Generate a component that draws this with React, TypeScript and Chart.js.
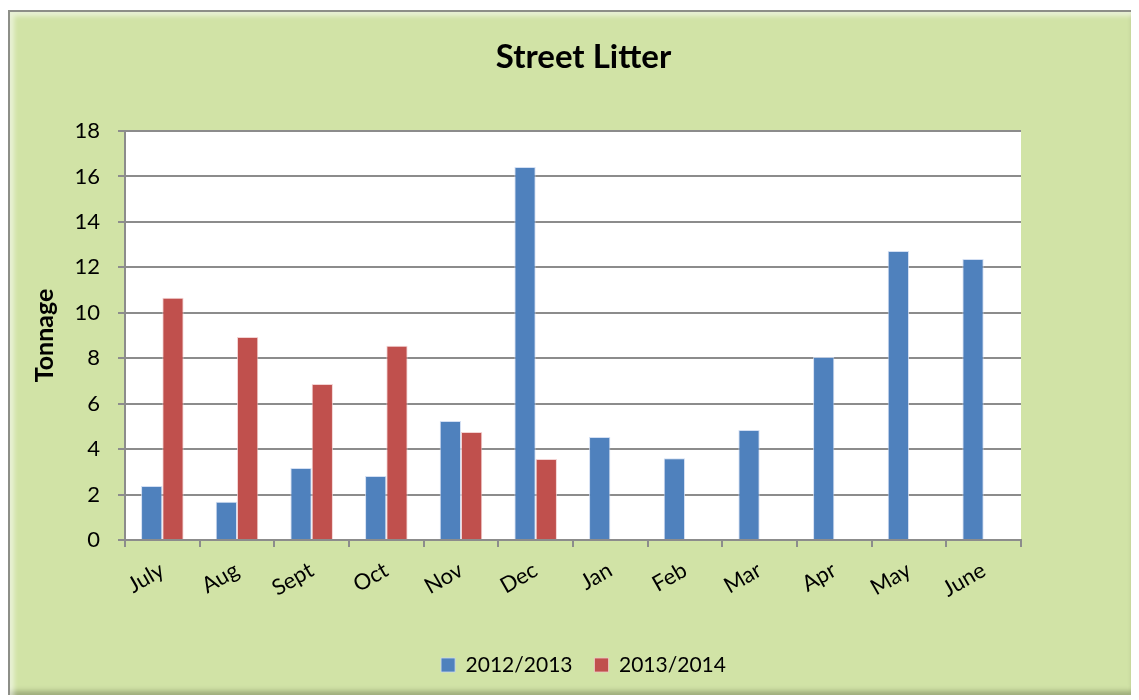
import React, { useEffect, useRef } from "react";
import { Chart, registerables } from "chart.js";

Chart.register(...registerables);

const categories = ["July", "Aug", "Sept", "Oct", "Nov", "Dec", "Jan", "Feb", "Mar", "Apr", "May", "June"];
const series2012 = [2.38, 1.68, 3.17, 2.82, 5.24, 16.42, 4.53, 3.6, 4.84, 8.05, 12.72, 12.37];
const series2013 = [10.66, 8.93, 6.87, 8.55, 4.75, 3.57, null, null, null, null, null, null];
const yTicks = [0, 2, 4, 6, 8, 10, 12, 14, 16, 18];

const FONT = "Lato, 'Open Sans', sans-serif";

const plotBg = {
  id: "plotBg",
  beforeDraw(chart: any) {
    const { ctx, chartArea } = chart;
    ctx.save();
    ctx.fillStyle = "#ffffff";
    ctx.fillRect(chartArea.left, chartArea.top, chartArea.right - chartArea.left, chartArea.bottom - chartArea.top);
    ctx.restore();
  },
};

export default function App() {
  const ref = useRef<HTMLCanvasElement | null>(null);

  useEffect(() => {
    if (!ref.current) return;
    const chart = new Chart(ref.current, {
      type: "bar",
      data: {
        labels: categories,
        datasets: [
          {
            label: "2012/2013",
            data: series2012,
            backgroundColor: "#4f81bd",
            borderColor: "rgba(200,215,240,0.8)",
            borderWidth: 1,
            barPercentage: 1,
            categoryPercentage: 0.57,
          },
          {
            label: "2013/2014",
            data: series2013 as any,
            backgroundColor: "#c0504d",
            borderColor: "rgba(240,200,200,0.8)",
            borderWidth: 1,
            barPercentage: 1,
            categoryPercentage: 0.57,
          },
        ],
      },
      options: {
        responsive: false,
        animation: false,
        layout: { padding: { left: 20, right: 0, top: 0, bottom: 9.5 } },
        plugins: {
          title: {
            display: true,
            text: "Street Litter",
            color: "#000",
            font: { family: FONT, size: 33, weight: "bold" },
            padding: { top: 26, bottom: 53.4 },
          },
          legend: {
            position: "bottom",
            labels: {
              color: "#000",
              font: { family: FONT, size: 21 },
              boxWidth: 14,
              boxHeight: 14,
              padding: 22,
            },
          },
          tooltip: { enabled: false },
        },
        scales: {
          x: {
            grid: {
              display: true,
              drawOnChartArea: false,
              drawTicks: true,
              tickLength: 7,
              color: "#8c8c8c",
              lineWidth: 2,
              offset: true,
            },
            border: { display: true, color: "#8c8c8c", width: 2 },
            ticks: {
              color: "#000",
              font: { family: FONT, size: 22 },
              minRotation: 30,
              maxRotation: 30,
              padding: 10,
            },
            afterFit(scale: any) {
              scale.height = 92.5;
            },
          },
          y: {
            min: 0,
            max: 18,
            afterBuildTicks(scale: any) {
              scale.ticks = yTicks.map((v) => ({ value: v }));
            },
            grid: {
              color: "#8c8c8c",
              lineWidth: 2,
              tickLength: 7,
            },
            border: { display: true, color: "#8c8c8c", width: 2 },
            ticks: {
              color: "#000",
              font: { family: FONT, size: 22 },
              padding: 18,
            },
            title: {
              display: true,
              text: "Tonnage",
              color: "#000",
              font: { family: FONT, size: 25, weight: "bold" },
              padding: 0,
            },
            afterFit(scale: any) {
              scale.width = 95;
            },
          },
          yRight: {
            type: "linear",
            position: "right",
            display: true,
            grid: { display: false, drawTicks: false },
            border: { display: false },
            ticks: { display: false },
            afterFit(scale: any) {
              scale.width = 116;
            },
          },
        },
      },
      plugins: [plotBg],
    });
    return () => chart.destroy();
  }, []);

  return (
    <div
      style={{
        position: "relative",
        top: 2,
        width: 1127,
        height: 683,
        border: "2px solid #8d8f88",
        background: "#d1e3a6",
        boxShadow: "inset 4px 4px 5px rgba(255,255,255,0.55), inset -4px -4px 5px rgba(60,70,40,0.35)",
      }}
    >
      <canvas ref={ref} width={1127} height={683} style={{ display: "block", width: 1127, height: 683 }} />
    </div>
  );
}
